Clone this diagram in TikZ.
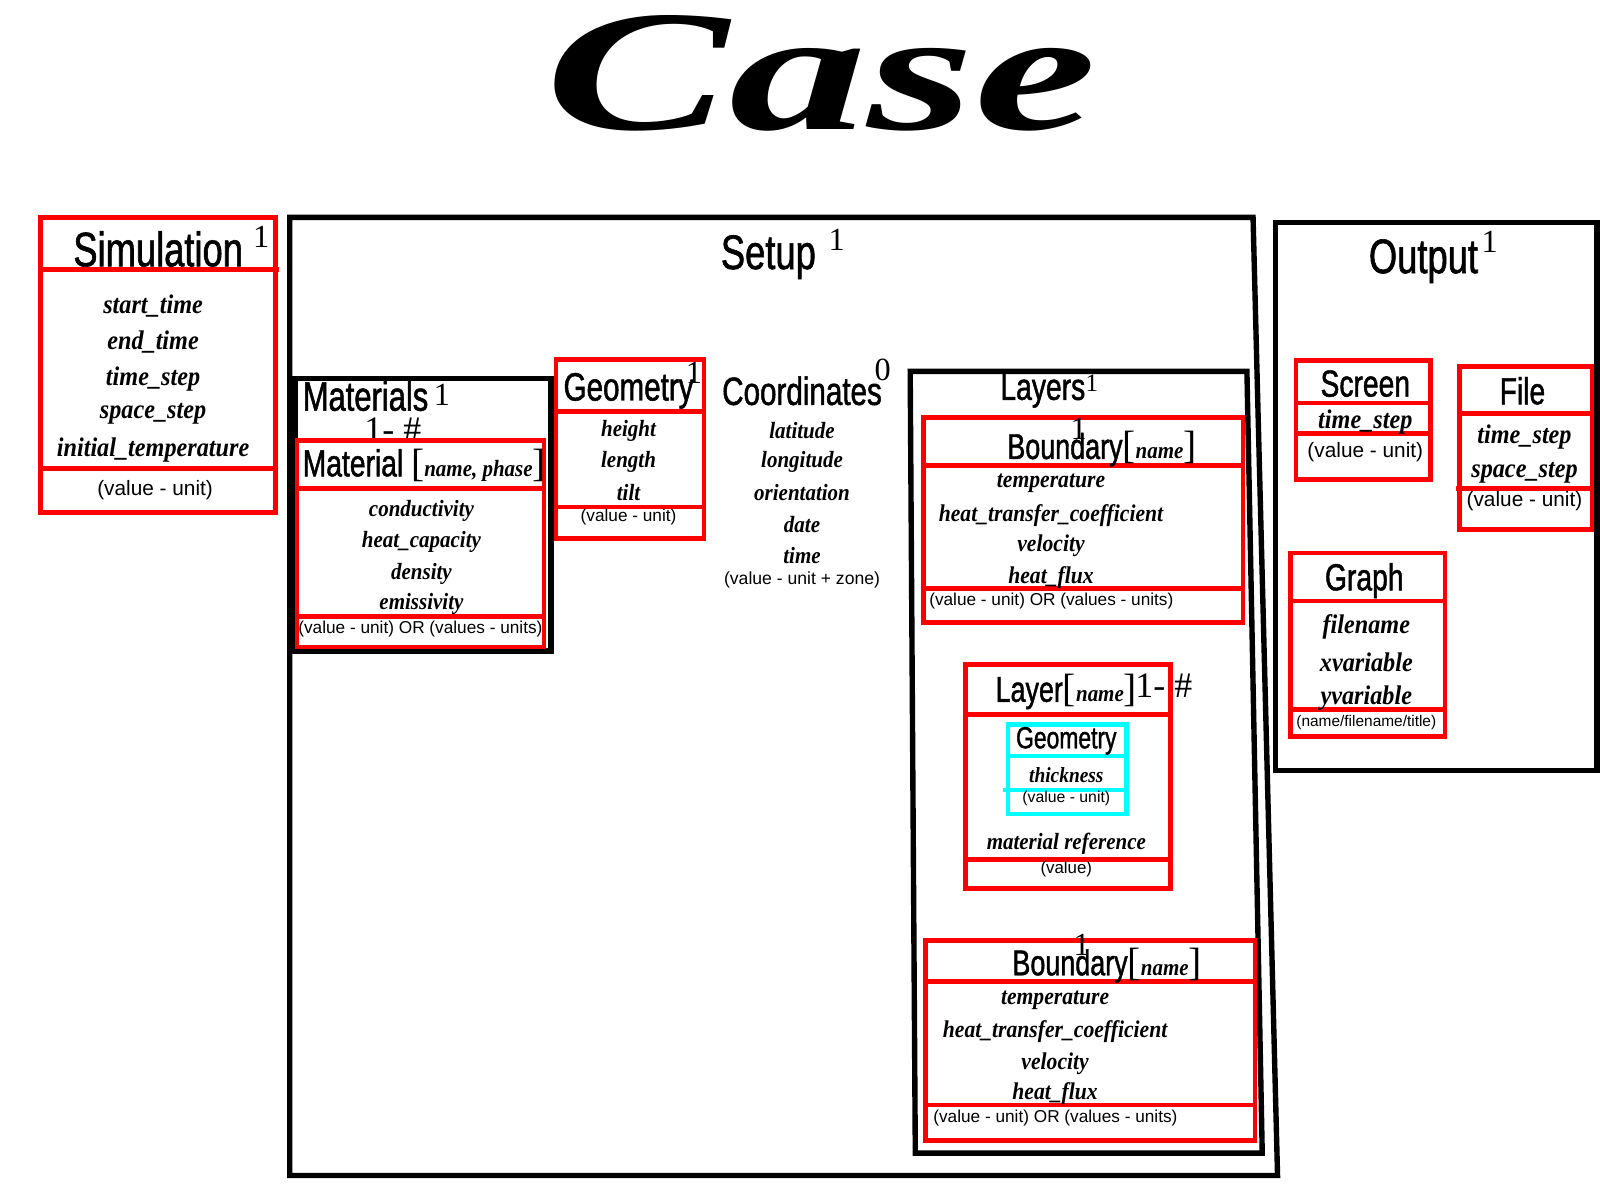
\documentclass[tikz,border=0pt]{standalone}
\usepackage{fontspec}
\usepackage{tikz}
\usetikzlibrary{calc, positioning}
\newfontfamily\ttlfont{Liberation Sans}[FakeStretch=0.75, FakeBold=1.2]
\newfontfamily\attfont{Liberation Serif}[FakeStretch=0.9]
\newfontfamily\valfont{Liberation Sans}
\newfontfamily\numfont{Liberation Serif}
\newfontfamily\casefont{Liberation Serif}[FakeStretch=1.6]
\definecolor{aqua}{RGB}{0,255,255}
\newcommand\tagname[1]{{\numfont\fontsize{11}{11}\selectfont[}{\attfont\bfseries\itshape\fontsize{6.5}{6.5}\selectfont#1}{\numfont\fontsize{11}{11}\selectfont]}}
\tikzset{
	redbox/.style={draw=red, line width=1.3pt},
	blackbox/.style={draw=black, line width=1.5pt},
	cyanbox/.style={draw=aqua, line width=1.2pt},
	ttl/.style={inner sep=0pt, font=\ttlfont\fontsize{#1}{#1}\selectfont},
	att/.style={inner sep=0pt, font=\attfont\bfseries\itshape\fontsize{#1}{#1}\selectfont},
	val/.style={inner sep=0pt, font=\valfont\fontsize{#1}{#1}\selectfont},
	num/.style={inner sep=0pt, font=\numfont\fontsize{#1}{#1}\selectfont}
}
\begin{document}
\begin{tikzpicture}[x=0.01cm, y=-0.01cm]
	\useasboundingbox (0,0) rectangle (1568,1176);
	\node[inner sep=0pt, font=\casefont\bfseries\itshape\fontsize{48}{48}\selectfont] (case) at (805,72) {Case};
	
	% simulation
	\draw[redbox] (40,213) rectangle (270,502);
	\draw[redbox] (40,264) -- (273,264);
	\draw[redbox] (40,459) -- (270,459);
	\node[ttl=13.5] (sim) at (155,244) {Simulation};
	\node[num=9] (simN) at (256,232) {1};
	\node[att=7.5] (simA) at (150,300) {start\_time};
	\node[att=7.5] (simB) at (150,335) {end\_time};
	\node[att=7.5] (simC) at (150,371) {time\_step};
	\node[att=7.5] (simD) at (150,406) {space\_step};
	\node[att=7.5] (simE) at (150,441) {initial\_temperature};
	\node[val=5.8] (simV) at (152,480) {(value - unit)};
	
	% setup
	\draw[blackbox] (284,213) -- (1228,213) -- (1252,1152) -- (284,1152) -- cycle;
	\node[ttl=13.5] (setup) at (753,252) {Setup};
	\node[num=9] (setupN) at (820,235) {1};
	
	\draw[blackbox] (289,371) rectangle (540,638);
	\node[ttl=11.5, anchor=west] (mats) at (296,388) {Materials};
	\node[num=9] (matsN) at (433,387) {1};
	\node[num=10] (matsM) at (385,421) {1- \#};
	\draw[redbox] (291,432) rectangle (533,634);
	\draw[redbox] (291,479) -- (533,479);
	\draw[redbox] (291,604) -- (533,604);
	\node[ttl=10.5, anchor=west] (mat) at (296,456) {Material \tagname{name, phase}};
	\node[att=6.5] (matA) at (413,501) {conductivity};
	\node[att=6.5] (matB) at (413,531) {heat\_capacity};
	\node[att=6.5] (matC) at (413,562) {density};
	\node[att=6.5] (matD) at (413,592) {emissivity};
	\node[val=4.8] (matV) at (412,616) {(value - unit) OR (values - units)};
	
	\draw[redbox] (545,352) rectangle (690,528);
	\draw[redbox] (545,403) -- (690,403);
	\draw[redbox] (545,497) -- (690,497);
	\node[ttl=11] (geo) at (616,383) {Geometry};
	\node[num=9] (geoN) at (680,365) {1};
	\node[att=6.5] (geoA) at (616,422) {height};
	\node[att=6.5] (geoB) at (616,453) {length};
	\node[att=6.5] (geoC) at (616,483) {tilt};
	\node[val=4.8] (geoV) at (616,507) {(value - unit)};
	
	\node[ttl=11] (crd) at (786,383) {Coordinates};
	\node[num=9] (crdN) at (865,363) {0};
	\node[att=6.5] (crdA) at (786,422) {latitude};
	\node[att=6.5] (crdB) at (786,453) {longitude};
	\node[att=6.5] (crdC) at (786,483) {orientation};
	\node[att=6.5] (crdD) at (786,514) {date};
	\node[att=6.5] (crdE) at (786,544) {time};
	\node[val=4.9] (crdV) at (786,568) {(value - unit + zone)};
	
	% layers
	\draw[blackbox] (892,364) -- (1222,364) -- (1237,1130) -- (897,1130) -- cycle;
	\node[ttl=10.5] (lys) at (1022,383) {Layers};
	\node[num=7] (lysN) at (1070,376) {1};
	
	\draw[redbox] (905,409) rectangle (1218,610);
	\draw[redbox] (905,456) -- (1218,456);
	\draw[redbox] (905,577) -- (1218,577);
	\node[ttl=10] (bdA) at (1080,440) {Boundary\tagname{name}};
	\node[num=9] (bdAN) at (1057,420) {1};
	\node[att=6.7] (bdAa) at (1030,474) {temperature};
	\node[att=6.7] (bdAb) at (1030,505) {heat\_transfer\_coefficient};
	\node[att=6.7] (bdAc) at (1030,535) {velocity};
	\node[att=6.7] (bdAd) at (1030,566) {heat\_flux};
	\node[val=4.8, anchor=west] (bdAv) at (910,589) {(value - unit) OR (values - units)};
	
	\draw[redbox] (946,651) rectangle (1147,871);
	\draw[redbox] (946,700) -- (1147,700);
	\draw[redbox] (946,842) -- (1147,842);
	\node[ttl=10] (lay) at (1045,678) {Layer\tagname{name}};
	\node[num=10, anchor=west] (layN) at (1112,672) {1- \#};
	\draw[cyanbox] (988,710) rectangle (1104,798);
	\draw[cyanbox] (988,741) -- (1104,741);
	\draw[cyanbox] (983,774) -- (1104,774);
	\node[ttl=8.5] (lgeo) at (1045,726) {Geometry};
	\node[att=6] (lgeoA) at (1045,760) {thickness};
	\node[val=4.4] (lgeoV) at (1045,782) {(value - unit)};
	\node[att=6.5] (layA) at (1045,827) {material reference};
	\node[val=4.7] (layV) at (1045,852) {(value)};
	
	\draw[redbox] (907,922) rectangle (1230,1118);
	\draw[redbox] (907,962) -- (1230,962);
	\draw[redbox] (907,1083) -- (1230,1083);
	\node[ttl=10] (bdB) at (1085,946) {Boundary\tagname{name}};
	\node[num=9] (bdBN) at (1060,926) {1};
	\node[att=6.7] (bdBa) at (1034,980) {temperature};
	\node[att=6.7] (bdBb) at (1034,1011) {heat\_transfer\_coefficient};
	\node[att=6.7] (bdBc) at (1034,1042) {velocity};
	\node[att=6.7] (bdBd) at (1034,1072) {heat\_flux};
	\node[val=4.8, anchor=west] (bdBv) at (914,1096) {(value - unit) OR (values - units)};
	
	% output
	\draw[blackbox] (1250,218) rectangle (1565,755);
	\node[ttl=13.5] (out) at (1395,256) {Output};
	\node[num=9] (outN) at (1460,237) {1};
	
	\draw[redbox] (1270,353) rectangle (1402,470);
	\draw[redbox] (1270,395) -- (1402,395);
	\draw[redbox] (1270,425) -- (1402,425);
	\node[ttl=10.5] (scr) at (1338,376) {Screen};
	\node[att=7.5] (scrA) at (1338,414) {time\_step};
	\node[val=5.8] (scrV) at (1338,443) {(value - unit)};
	
	\draw[redbox] (1430,359) rectangle (1560,519);
	\draw[redbox] (1430,405) -- (1560,405);
	\draw[redbox] (1427,479) -- (1560,479);
	\node[ttl=10.5] (fil) at (1492,383) {File};
	\node[att=7.5] (filA) at (1494,428) {time\_step};
	\node[att=7.5] (filB) at (1494,463) {space\_step};
	\node[val=5.8] (filV) at (1494,491) {(value - unit)};
	
	\draw[redbox] (1265,542) rectangle (1416,722);
	\draw[redbox] (1265,589) -- (1416,589);
	\draw[redbox] (1265,695) -- (1416,695);
	\node[ttl=10.5] (gra) at (1337,569) {Graph};
	\node[att=7.5] (graA) at (1339,614) {filename};
	\node[att=7.5] (graB) at (1339,649) {xvariable};
	\node[att=7.5] (graC) at (1339,684) {yvariable};
	\node[val=4.3] (graV) at (1339,708) {(name/filename/title)};
\end{tikzpicture}
\end{document}
